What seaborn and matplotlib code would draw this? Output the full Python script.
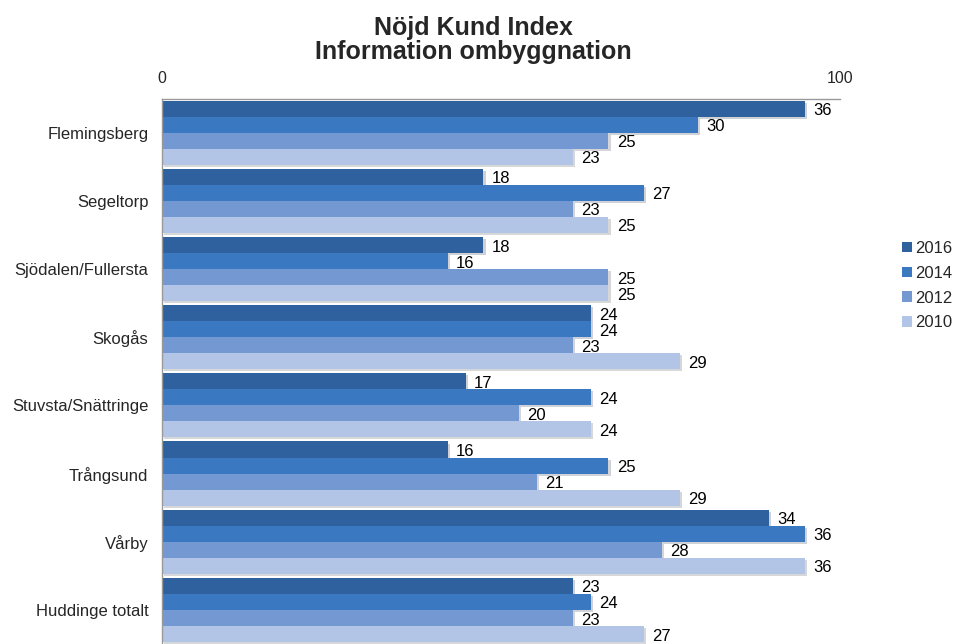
import numpy as np
import pandas as pd
import matplotlib.pyplot as plt
import matplotlib.patheffects as pe
import seaborn as sns

areas = ['Flemingsberg', 'Segeltorp', 'Sjödalen/Fullersta', 'Skogås',
         'Stuvsta/Snättringe', 'Trångsund', 'Vårby', 'Huddinge totalt']
years = ['2016', '2014', '2012', '2010']
v2016 = [36, 18, 18, 24, 17, 16, 34, 23]
v2014 = [30, 27, 16, 24, 24, 25, 36, 24]
v2012 = [25, 23, 25, 23, 20, 21, 28, 23]
v2010 = [23, 25, 25, 29, 24, 29, 36, 27]
colors = ['#30619f', '#3b78c2', '#7398d2', '#b3c5e6']

df = pd.DataFrame({
    'area': areas * 4,
    'year': sum([[y] * len(areas) for y in years], []),
    'value': v2016 + v2014 + v2012 + v2010,
})

sns.set_style('white')
plt.rcParams['font.family'] = ['Liberation Sans', 'DejaVu Sans']

fig = plt.figure(figsize=(9.54, 6.44), dpi=100)
ax = fig.add_axes([0.17, 0.0, 0.711, 0.847])
sns.barplot(data=df, y='area', x='value', hue='year', hue_order=years,
            palette=colors, orient='h', width=0.94, saturation=1,
            linewidth=0, ax=ax, legend=True)

for cont in ax.containers:
    for bar in cont:
        bar.set_path_effects([pe.SimplePatchShadow(offset=(1.5, -1.5), alpha=0.2),
                              pe.Normal()])
    labels = ax.bar_label(cont, padding=6, fontsize=12, color='black')
    for t in labels:
        x, y = t.xyann
        t.xyann = (x, y - 1.5)  # labels sit a bit below bar centre

ax.set_xlim(0, 38)
ax.set_ylim(len(areas) - 0.5, -0.5)
ax.xaxis.tick_top()
ax.set_xticks([0, 38])
ax.set_xticklabels(['0', '100'], fontsize=11.5)
ax.tick_params(axis='x', length=0, pad=9)
ax.set_xlabel('')
ax.set_ylabel('')
ax.tick_params(axis='y', which='major', length=0, pad=10, labelsize=12)
ax.set_yticks(np.arange(len(areas) + 1) - 0.5, minor=True)
ax.tick_params(axis='y', which='minor', length=5, color='#888888', width=0.8)

for s in ['right', 'bottom']:
    ax.spines[s].set_visible(False)
for s in ['left', 'top']:
    ax.spines[s].set_color('#999999')
    ax.spines[s].set_linewidth(1)

ax.legend(loc='center left', bbox_to_anchor=(1.09, 0.657), frameon=False,
          fontsize=12, handlelength=0.6, handleheight=0.6, handletextpad=0.2,
          labelspacing=0.59, borderaxespad=0, borderpad=0)

fig.text(0.496, 0.938, 'Nöjd Kund Index\nInformation ombyggnation',
         ha='center', va='center', fontsize=18, fontweight='bold',
         linespacing=0.98)

fig.savefig('out.png', dpi=100)
